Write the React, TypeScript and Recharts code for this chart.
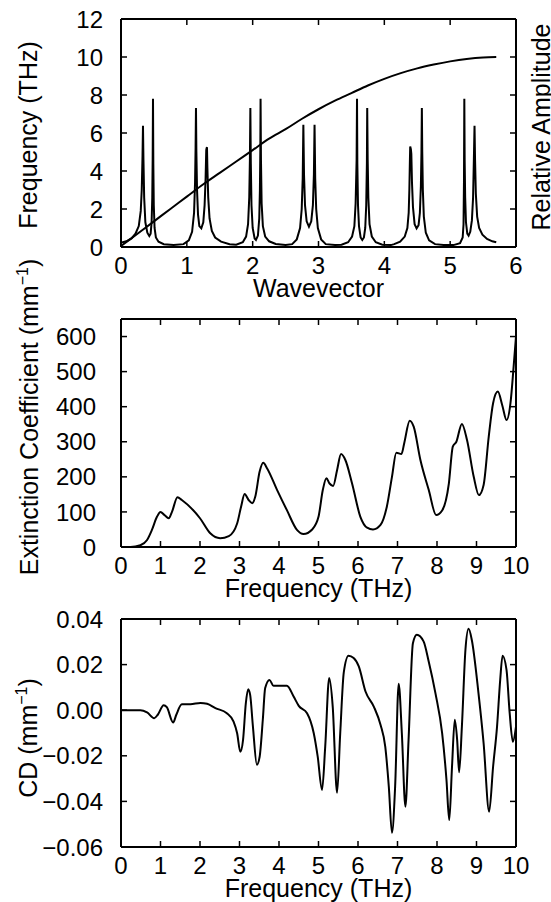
import React from "react";
import { LineChart, Line, XAxis, YAxis, Label, ReferenceLine } from "recharts";

// Top panel: dispersion curve (frequency vs wavevector) and relative amplitude spikes.
const dispersion: [number, number][] = [
  [0, 0.05], [0.25, 0.7], [0.5, 1.35], [0.75, 2.0], [1, 2.65], [1.25, 3.3],
  [1.5, 3.9], [1.75, 4.5], [2, 5.1], [2.25, 5.7], [2.5, 6.2], [2.75, 6.75],
  [3, 7.25], [3.25, 7.7], [3.5, 8.1], [3.75, 8.5], [4, 8.85], [4.25, 9.15],
  [4.5, 9.4], [4.75, 9.6], [5, 9.77], [5.25, 9.9], [5.5, 9.98], [5.7, 10.0],
];

const amplitude: [number, number][] = [
  [0, 0.23], [0.08, 0.3], [0.16, 0.45], [0.22, 0.7], [0.27, 1.1], [0.3, 1.9],
  [0.315, 3.0], [0.327, 4.8], [0.334, 6.38], [0.341, 4.6], [0.352, 2.6], [0.37, 1.3],
  [0.4, 0.75], [0.43, 0.58], [0.45, 0.7], [0.465, 1.3], [0.475, 2.6], [0.481, 4.6],
  [0.486, 7.8], [0.491, 4.4], [0.498, 2.2], [0.51, 1.0], [0.53, 0.5], [0.57, 0.28],
  [0.65, 0.15], [0.8, 0.1],
  [0.95, 0.15], [1.03, 0.35], [1.08, 0.8], [1.11, 1.8], [1.125, 3.4], [1.133, 5.2],
  [1.139, 7.31], [1.145, 5.0], [1.155, 3.0], [1.17, 1.7], [1.19, 1.1], [1.22, 0.98],
  [1.25, 1.3], [1.27, 2.2], [1.285, 3.6], [1.295, 5.1], [1.3, 5.2], [1.306, 5.25],
  [1.312, 4.2], [1.325, 2.6], [1.345, 1.5], [1.38, 0.85], [1.43, 0.5], [1.52, 0.28],
  [1.65, 0.15],
  [1.75, 0.12], [1.85, 0.25], [1.9, 0.55], [1.93, 1.2], [1.948, 2.6], [1.958, 4.6],
  [1.965, 7.31], [1.972, 4.4], [1.982, 2.2], [2.0, 1.0], [2.03, 0.45], [2.05, 0.37],
  [2.08, 0.6], [2.1, 1.5], [2.11, 3.0], [2.116, 5.0], [2.12, 7.8], [2.126, 4.6],
  [2.136, 2.3], [2.155, 1.1], [2.19, 0.55], [2.25, 0.3], [2.35, 0.16], [2.5, 0.1],
  [2.6, 0.15], [2.67, 0.4], [2.72, 1.0], [2.745, 2.0], [2.76, 3.6], [2.77, 6.43],
  [2.78, 3.8], [2.795, 2.2], [2.82, 1.35], [2.855, 1.07], [2.89, 1.35], [2.915, 2.2],
  [2.93, 3.8], [2.94, 6.43], [2.95, 3.6], [2.965, 2.0], [2.99, 1.0], [3.04, 0.4],
  [3.11, 0.15], [3.25, 0.1],
  [3.35, 0.12], [3.45, 0.25], [3.51, 0.55], [3.545, 1.1], [3.564, 2.3], [3.579, 4.6],
  [3.585, 7.8], [3.59, 4.4], [3.6, 2.2], [3.615, 1.1], [3.64, 0.5], [3.665, 0.37],
  [3.69, 0.5], [3.71, 1.0], [3.725, 2.2], [3.735, 4.4], [3.74, 7.31], [3.747, 4.6],
  [3.757, 2.6], [3.775, 1.2], [3.81, 0.55], [3.87, 0.25], [3.97, 0.12], [4.1, 0.1],
  [4.15, 0.15], [4.24, 0.28], [4.31, 0.55], [4.35, 1.0], [4.37, 1.8], [4.38, 3.0],
  [4.388, 4.5], [4.393, 5.29], [4.403, 5.15], [4.41, 4.9], [4.42, 3.4], [4.435, 2.1],
  [4.46, 1.2], [4.49, 0.98], [4.52, 1.15], [4.54, 1.8], [4.555, 3.2], [4.564, 5.0],
  [4.57, 7.31], [4.576, 5.0], [4.585, 3.0], [4.6, 1.6], [4.63, 0.75], [4.68, 0.35],
  [4.77, 0.15], [4.9, 0.1],
  [5.05, 0.1], [5.15, 0.2], [5.19, 0.5], [5.203, 1.2], [5.21, 3.5], [5.215, 7.8],
  [5.22, 4.6], [5.228, 2.6], [5.24, 1.3], [5.26, 0.7], [5.28, 0.6], [5.305, 0.8],
  [5.33, 1.4], [5.348, 2.6], [5.36, 4.6], [5.37, 6.38], [5.378, 4.6], [5.39, 2.8],
  [5.41, 1.6], [5.44, 1.0], [5.49, 0.65], [5.56, 0.42], [5.64, 0.3], [5.7, 0.25],
];

// Middle panel: extinction coefficient (mm^-1) vs frequency (THz).
const extinction: [number, number][] = [
  [0, 0], [0.24, 0], [0.49, 5], [0.66, 20], [0.78, 48], [0.91, 86], [1.0, 100],
  [1.1, 91], [1.21, 82], [1.29, 100], [1.43, 142], [1.54, 134], [2.0, 82],
  [2.26, 39], [2.51, 25], [2.73, 31], [2.94, 67], [3.04, 115], [3.13, 151],
  [3.23, 134], [3.32, 125], [3.4, 144], [3.51, 215], [3.6, 240], [3.7, 224],
  [3.95, 163], [4.2, 105], [4.46, 48], [4.62, 37], [4.84, 50], [5.0, 86],
  [5.11, 163], [5.2, 196], [5.28, 181], [5.37, 174], [5.47, 219], [5.57, 265],
  [5.68, 248], [5.85, 181], [6.06, 86], [6.23, 55], [6.38, 50], [6.57, 63],
  [6.73, 115], [6.86, 200], [6.97, 269], [7.1, 265], [7.17, 296], [7.31, 360],
  [7.41, 343], [7.58, 248], [7.79, 163], [7.98, 91], [8.13, 104], [8.3, 181],
  [8.4, 286], [8.49, 300], [8.63, 351], [8.76, 305], [8.93, 200], [9.06, 148],
  [9.18, 177], [9.31, 315], [9.42, 410], [9.54, 443], [9.65, 405], [9.76, 362],
  [9.86, 410], [9.94, 514], [10.0, 600],
];

// Bottom panel: circular dichroism (mm^-1) vs frequency (THz).
const cd: [number, number][] = [
  [0, 0], [0.49, 0], [0.66, -0.001], [0.84, -0.0035], [0.93, -0.002], [1.08, 0.0022],
  [1.16, 0.0013], [1.32, -0.0054], [1.4, -0.002], [1.54, 0.0026], [1.76, 0.0026],
  [2.01, 0.0032], [2.18, 0.0028], [2.39, 0.0009], [2.68, -0.0013], [2.85, -0.005],
  [2.94, -0.0101], [3.02, -0.0182], [3.09, -0.013], [3.16, 0.003], [3.22, 0.0092],
  [3.27, 0.0067], [3.34, -0.0072], [3.44, -0.0239], [3.51, -0.0204], [3.59, -0.0042],
  [3.65, 0.0097], [3.76, 0.0133], [3.86, 0.0107], [4.2, 0.0107], [4.37, 0.006],
  [4.5, 0.0019], [4.71, -0.0013], [4.88, -0.0101], [4.98, -0.0204], [5.09, -0.035],
  [5.17, -0.016], [5.27, 0.0141], [5.36, 0.0016], [5.47, -0.0362], [5.55, -0.0101],
  [5.64, 0.0166], [5.76, 0.0239], [5.89, 0.0229], [6.02, 0.0192], [6.19, 0.0082],
  [6.4, 0.0016], [6.57, -0.0064], [6.69, -0.016], [6.78, -0.0335], [6.86, -0.0538],
  [6.94, -0.0335], [7.03, 0.0116], [7.11, -0.0101], [7.2, -0.0423], [7.28, -0.013],
  [7.39, 0.0294], [7.49, 0.0331], [7.66, 0.0302], [7.79, 0.0214], [7.96, 0.0075],
  [8.13, -0.0101], [8.24, -0.0306], [8.31, -0.0482], [8.38, -0.0248], [8.45, -0.0042],
  [8.51, -0.013], [8.56, -0.0272], [8.63, -0.0072], [8.72, 0.0265], [8.8, 0.0357],
  [8.88, 0.0309], [9.05, 0.0075], [9.18, -0.0145], [9.32, -0.0445], [9.42, -0.0248],
  [9.52, -0.0072], [9.6, 0.0133], [9.66, 0.0239], [9.76, 0.0177], [9.84, -0.0013],
  [9.92, -0.0138], [10.0, -0.0072],
];

const wavevectorTicks = [0, 1, 2, 3, 4, 5, 6];
const freqTicks = [0, 2, 4, 6, 8, 10, 12];
const thzTicks = [0, 1, 2, 3, 4, 5, 6, 7, 8, 9, 10];
const extTicks = [0, 100, 200, 300, 400, 500, 600];
const cdTicks = [-0.06, -0.04, -0.02, 0, 0.02, 0.04];

const FONT = "'Liberation Sans', Arial, Helvetica, sans-serif";
const W = 551;
const H = 305;
// plot box shared by all three panels (gnuplot-style frame)
const PLOT_LEFT = 121;
const PLOT_RIGHT = 516;
const PLOT_TOP = 19;
const PLOT_BOTTOM = 247;
const TICK_LEN = 6;
const MARGIN = { top: PLOT_TOP, right: W - PLOT_RIGHT, bottom: 0, left: 0 };

const axisLine = { stroke: "#000", strokeWidth: 2 };
const frame = { stroke: "#000", strokeWidth: 2 };

const toRows = (pts: [number, number][]) => pts.map(([x, y]) => ({ x, y }));

function fmtCd(v: number) {
  return v.toFixed(2).replace("-", "\u2212");
}

function BottomTick(props: any) {
  const { x, payload } = props;
  return (
    <text x={x} y={PLOT_BOTTOM + 10} dy="0.71em" textAnchor="middle" fontSize={24} fontFamily={FONT} fill="#000">
      {payload.value}
    </text>
  );
}

// gap = space between label and frame
function makeLeftTick(gap: number, fmt?: (v: number) => string) {
  return function LeftTick(props: any) {
    const { y, payload } = props;
    const v = fmt ? fmt(payload.value) : String(payload.value);
    return (
      <text x={PLOT_LEFT - gap} y={y} dy="0.36em" textAnchor="end" fontSize={24} fontFamily={FONT} fill="#000">
        {v}
      </text>
    );
  };
}

// short inward tick marks on all four sides, as data-space segments
function frameTicks(xTicks: number[], yTicks: number[], xDom: [number, number], yDom: [number, number]) {
  const dy = ((yDom[1] - yDom[0]) * TICK_LEN) / (PLOT_BOTTOM - PLOT_TOP);
  const dx = ((xDom[1] - xDom[0]) * TICK_LEN) / (PLOT_RIGHT - PLOT_LEFT);
  const s = { stroke: "#000", strokeWidth: 1.5, ifOverflow: "visible" as const };
  const out: React.ReactNode[] = [];
  xTicks.forEach((t) => {
    out.push(<ReferenceLine key={`xb${t}`} segment={[{ x: t, y: yDom[0] }, { x: t, y: yDom[0] + dy }]} {...s} />);
    out.push(<ReferenceLine key={`xt${t}`} segment={[{ x: t, y: yDom[1] }, { x: t, y: yDom[1] - dy }]} {...s} />);
  });
  yTicks.forEach((t) => {
    out.push(<ReferenceLine key={`yl${t}`} segment={[{ x: xDom[0], y: t }, { x: xDom[0] + dx, y: t }]} {...s} />);
    out.push(<ReferenceLine key={`yr${t}`} segment={[{ x: xDom[1], y: t }, { x: xDom[1] - dx, y: t }]} {...s} />);
  });
  return out;
}

function xTitle(text: string) {
  return () => (
    <text x={(PLOT_LEFT + PLOT_RIGHT) / 2} y={297} textAnchor="middle" fontSize={25} fontFamily={FONT} fill="#000">
      {text}
    </text>
  );
}

function yTitle(x: number, y: number, main: string, sup?: boolean) {
  return () => (
    <text
      x={x}
      y={y}
      transform={`rotate(-90 ${x} ${y})`}
      textAnchor="middle"
      fontSize={25}
      fontFamily={FONT}
      fill="#000"
    >
      {main}
      {sup ? (
        <>
          <tspan dy={-10} fontSize={16}>{"\u22121"}</tspan>
          <tspan dy={10}>)</tspan>
        </>
      ) : null}
    </text>
  );
}

const panelStyle = (top: number): React.CSSProperties => ({ position: "absolute", left: 0, top });

export default function App() {
  return (
    <div style={{ position: "absolute", left: 0, top: 0, width: W, height: 902, overflow: "hidden", background: "#fff" }}>
      <style>{".recharts-surface{overflow:visible}"}</style>
      <div style={panelStyle(0)}>
        <LineChart width={W} height={H} margin={MARGIN}>
          <XAxis
            dataKey="x"
            type="number"
            domain={[0, 6]}
            ticks={wavevectorTicks}
            height={H - PLOT_BOTTOM}
            tickLine={false}
            tick={BottomTick}
            axisLine={axisLine}
          >
            <Label content={xTitle("Wavevector")} />
          </XAxis>
          <YAxis
            type="number"
            domain={[0, 12]}
            ticks={freqTicks}
            width={PLOT_LEFT}
            tickLine={false}
            tick={makeLeftTick(18)}
            axisLine={axisLine}
          >
            <Label content={yTitle(37, 135, "Frequency (THz)")} />
          </YAxis>
          <YAxis yAxisId="r" orientation="right" type="number" domain={[0, 12]} hide />
          <ReferenceLine y={12} {...frame} />
          <ReferenceLine x={6} {...frame} label={{ content: yTitle(550, 127, "Relative Amplitude") }} />
          {frameTicks(wavevectorTicks, freqTicks, [0, 6], [0, 12])}
          <Line data={toRows(amplitude)} dataKey="y" yAxisId="r" type="linear" stroke="#000" strokeWidth={2} dot={false} isAnimationActive={false} />
          <Line data={toRows(dispersion)} dataKey="y" type="monotone" stroke="#000" strokeWidth={2} dot={false} isAnimationActive={false} />
        </LineChart>
      </div>

      <div style={panelStyle(300)}>
        <LineChart width={W} height={H} margin={MARGIN}>
          <XAxis dataKey="x" type="number" domain={[0, 10]} ticks={thzTicks} height={H - PLOT_BOTTOM} tickLine={false} tick={BottomTick} axisLine={axisLine}>
            <Label content={xTitle("Frequency (THz)")} />
          </XAxis>
          <YAxis type="number" domain={[0, 650]} ticks={extTicks} width={PLOT_LEFT} tickLine={false} tick={makeLeftTick(25)} axisLine={axisLine}>
            <Label content={yTitle(38, 117, "Extinction Coefficient (mm", true)} />
          </YAxis>
          <ReferenceLine y={650} {...frame} />
          <ReferenceLine x={10} {...frame} />
          {frameTicks(thzTicks, extTicks, [0, 10], [0, 650])}
          <Line data={toRows(extinction)} dataKey="y" type="monotone" stroke="#000" strokeWidth={2} dot={false} isAnimationActive={false} />
        </LineChart>
      </div>

      <div style={panelStyle(600)}>
        <LineChart width={W} height={H} margin={MARGIN}>
          <XAxis dataKey="x" type="number" domain={[0, 10]} ticks={thzTicks} height={H - PLOT_BOTTOM} tickLine={false} tick={BottomTick} axisLine={axisLine}>
            <Label content={xTitle("Frequency (THz)")} />
          </XAxis>
          <YAxis type="number" domain={[-0.06, 0.04]} ticks={cdTicks} width={PLOT_LEFT} tickLine={false} tick={makeLeftTick(18, fmtCd)} axisLine={axisLine}>
            <Label content={yTitle(37, 138, "CD (mm", true)} />
          </YAxis>
          <ReferenceLine y={0.04} {...frame} />
          <ReferenceLine x={10} {...frame} />
          {frameTicks(thzTicks, cdTicks, [0, 10], [-0.06, 0.04])}
          <Line data={toRows(cd)} dataKey="y" type="monotone" stroke="#000" strokeWidth={2} dot={false} isAnimationActive={false} />
        </LineChart>
      </div>
    </div>
  );
}
